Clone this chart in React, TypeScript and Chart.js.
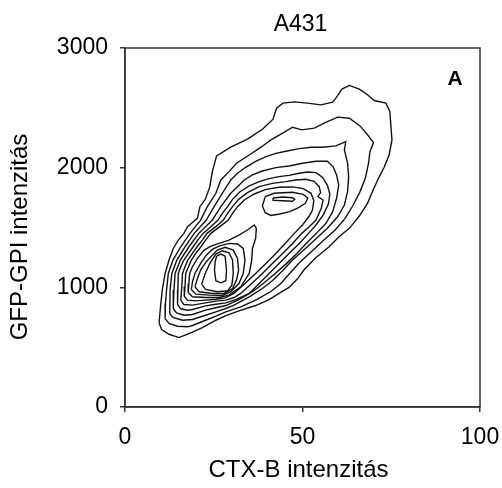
import React, { useEffect, useRef } from "react";
import { Chart, registerables } from "chart.js";

Chart.register(...registerables);

const TITLE = "A431";
const X_TITLE = "CTX-B intenzitás";
const Y_TITLE = "GFP-GPI intenzitás";
const PANEL_LABEL = "A";
const X_TICKS = [0, 50, 100];
const Y_TICKS = [0, 1000, 2000, 3000];

type Pt = [number, number];

// Contour lines, as [CTX-B, GFP-GPI] pairs (outermost first)
const contour1: Pt[] = [
  [9.6, 703], [10.3, 647], [12.4, 608], [15.2, 580], [17.1, 603], [19.0, 625], [21.8, 664], [25.6, 725],
  [28.4, 764], [32.1, 804], [36.8, 848], [40.6, 898], [43.4, 949], [46.2, 999], [48.6, 1071], [50.5, 1149],
  [53.8, 1250], [57.5, 1339], [60.3, 1423], [63.2, 1493], [66.0, 1596], [68.3, 1702], [69.9, 1814], [71.4, 1911],
  [73.0, 2003], [74.4, 2106], [75.2, 2232], [74.9, 2349], [74.6, 2469], [73.5, 2539], [70.2, 2561], [68.3, 2609],
  [66.0, 2656], [63.2, 2687], [61.1, 2656], [59.6, 2589], [58.5, 2547], [55.2, 2525], [51.4, 2539], [47.7, 2550],
  [44.5, 2539], [42.7, 2497], [41.7, 2405], [38.7, 2321], [34.5, 2238], [29.8, 2171], [25.8, 2098], [24.6, 1967],
  [23.9, 1841], [22.6, 1735], [21.1, 1674], [20.4, 1576], [17.6, 1507], [16.6, 1451], [15.0, 1395], [13.6, 1325],
  [12.4, 1228], [11.3, 1116], [10.5, 977], [10.0, 837],
];
const contour2: Pt[] = [
  [11.3, 739], [12.4, 698], [14.8, 675], [17.6, 670], [19.0, 681], [22.7, 725], [25.6, 759], [28.4, 795],
  [32.6, 837], [36.8, 893], [41.1, 965], [43.9, 1032], [46.4, 1116], [49.1, 1205], [52.4, 1295], [55.8, 1389],
  [59.2, 1479], [62.0, 1576], [64.3, 1688], [66.2, 1800], [67.7, 1911], [68.6, 2037], [69.0, 2134], [70.0, 2210],
  [68.6, 2265], [66.2, 2349], [63.2, 2413], [59.9, 2422], [56.4, 2377], [53.3, 2330], [49.8, 2316], [47.2, 2338],
  [44.4, 2288], [41.1, 2232], [38.3, 2171], [35.0, 2106], [31.4, 2037], [29.3, 1967], [27.0, 1897], [25.6, 1786],
  [23.2, 1674], [21.3, 1562], [18.3, 1451], [15.7, 1339], [13.5, 1228], [12.2, 1116], [11.7, 977], [11.4, 865],
];
const contour3: Pt[] = [
  [12.6, 781], [13.5, 748], [16.2, 725], [19.0, 731], [22.7, 767], [25.6, 795], [28.4, 823], [30.7, 851],
  [35.0, 921], [38.7, 990], [41.5, 1055], [44.4, 1138], [47.2, 1228], [50.5, 1317], [53.8, 1406], [57.0, 1493],
  [59.9, 1590], [61.8, 1688], [62.7, 1800], [63.0, 1925], [62.7, 2037], [61.8, 2148], [62.2, 2218], [59.4, 2182],
  [55.6, 2171], [52.4, 2171], [49.1, 2159], [45.3, 2137], [42.5, 2120], [39.7, 2093], [36.8, 2053], [34.0, 2003],
  [31.7, 1953], [29.8, 1897], [27.4, 1786], [25.1, 1674], [22.9, 1562], [19.5, 1451], [16.9, 1339], [14.6, 1228],
  [13.2, 1116], [12.7, 977],
];
const contour4: Pt[] = [
  [13.6, 823], [14.5, 787], [16.6, 767], [19.0, 773], [22.7, 809], [25.6, 829], [28.4, 848], [32.1, 898],
  [35.9, 963], [39.2, 1038], [42.3, 1116], [45.3, 1194], [48.4, 1283], [50.9, 1362], [53.9, 1451], [56.6, 1535],
  [58.5, 1632], [59.6, 1744], [60.2, 1855], [59.6, 1939], [58.6, 2009], [57.0, 2053], [53.8, 2053], [50.0, 2037],
  [46.2, 2014], [42.5, 2000], [38.7, 1972], [35.9, 1939], [33.6, 1897], [29.8, 1786], [27.0, 1674], [24.6, 1562],
  [20.8, 1451], [18.0, 1339], [15.6, 1228], [14.1, 1116], [13.8, 977],
];
const contour5: Pt[] = [
  [14.8, 859], [15.6, 823], [17.6, 809], [19.0, 815], [22.7, 845], [25.6, 859], [28.4, 870], [31.2, 898],
  [35.0, 949], [37.8, 1032], [40.6, 1116], [43.4, 1200], [46.2, 1283], [49.1, 1367], [51.7, 1451], [53.8, 1521],
  [55.8, 1604], [57.3, 1696], [57.7, 1780], [57.0, 1855], [55.6, 1920], [53.8, 1959], [51.4, 1964], [49.1, 1953],
  [46.2, 1936], [43.4, 1925], [40.6, 1908], [37.8, 1883], [35.0, 1847], [32.3, 1797], [30.3, 1735], [28.9, 1674],
  [27.4, 1618], [26.2, 1562], [24.2, 1507], [22.0, 1451], [20.5, 1395], [19.2, 1339], [17.9, 1283], [16.6, 1228],
  [15.7, 1172], [15.0, 1116], [14.9, 977],
];
const contour6: Pt[] = [
  [15.7, 893], [16.6, 856], [19.0, 851], [22.7, 870], [25.6, 885], [28.4, 893], [30.7, 915], [32.6, 949],
  [35.7, 1032], [38.7, 1116], [41.5, 1200], [44.4, 1283], [47.2, 1367], [49.8, 1451], [51.9, 1507], [53.8, 1562],
  [55.3, 1660], [55.8, 1730], [54.3, 1758], [55.1, 1791], [54.7, 1841], [53.3, 1886], [50.9, 1903], [48.1, 1897],
  [45.3, 1883], [41.5, 1869], [37.8, 1841], [34.5, 1791], [32.0, 1735], [30.3, 1674], [28.9, 1618], [27.7, 1562],
  [25.6, 1507], [23.1, 1451], [21.8, 1395], [20.3, 1339], [19.0, 1283], [17.7, 1228], [16.9, 1172], [16.2, 1116],
  [16.0, 1004],
];
const contour7: Pt[] = [
  [16.7, 926], [17.6, 893], [19.9, 887], [22.7, 893], [25.6, 901], [28.2, 912], [30.7, 949], [33.8, 1032],
  [36.8, 1116], [39.7, 1200], [42.5, 1283], [45.1, 1367], [47.7, 1451], [50.0, 1521], [51.9, 1596], [52.8, 1646],
  [53.2, 1724], [52.4, 1786], [50.2, 1825], [47.2, 1839], [43.4, 1836], [39.7, 1819], [36.4, 1780], [33.6, 1730],
  [31.7, 1674], [30.3, 1618], [29.1, 1562], [26.7, 1507], [24.2, 1451], [22.7, 1395], [21.4, 1339], [19.9, 1283],
  [18.7, 1228], [17.9, 1172], [17.1, 1116], [16.9, 1004],
];
const contour8Lower: Pt[] = [
  [17.8, 957], [19.0, 921], [22.7, 915], [26.5, 915], [29.3, 935], [32.6, 1004], [35.0, 1116], [35.7, 1228],
  [35.9, 1325], [36.8, 1409], [37.0, 1493], [36.4, 1521], [34.5, 1479], [32.1, 1437], [29.3, 1395], [26.5, 1367],
  [24.2, 1345], [22.3, 1311], [20.4, 1242], [19.0, 1172], [18.2, 1116], [18.0, 1032],
];
const contour8Upper: Pt[] = [
  [39.5, 1758], [42.0, 1786], [47.2, 1794], [50.2, 1777], [51.5, 1747], [50.8, 1702], [48.9, 1666], [46.4, 1632],
  [43.6, 1613], [41.1, 1601], [39.5, 1624], [38.7, 1680],
];
const contour9Lower: Pt[] = [
  [18.7, 982], [19.9, 943], [23.7, 935], [27.4, 932], [29.8, 963], [32.1, 1032], [33.3, 1116], [33.8, 1228],
  [33.3, 1325], [31.7, 1362], [29.3, 1367], [26.5, 1345], [24.6, 1317], [22.9, 1269], [21.3, 1200], [19.7, 1116],
  [19.0, 1046],
];
const contour9Upper: Pt[] = [
  [41.7, 1747], [44.4, 1755], [47.2, 1749], [47.8, 1735], [47.2, 1719], [44.4, 1724], [41.9, 1727],
];
const contour10: Pt[] = [
  [19.7, 1004], [20.9, 963], [24.6, 949], [27.9, 949], [30.3, 990], [31.4, 1060], [32.0, 1144], [31.7, 1242],
  [30.5, 1311], [28.2, 1334], [26.0, 1311], [24.6, 1269], [22.9, 1214], [21.3, 1144], [20.4, 1074],
];
const contour11: Pt[] = [
  [21.6, 1027], [22.7, 982], [26.0, 963], [28.9, 971], [30.1, 1018], [30.5, 1116], [30.3, 1228], [29.3, 1289],
  [27.4, 1306], [25.6, 1278], [23.9, 1200], [22.6, 1116],
];
const contour12: Pt[] = [
  [25.8, 1261], [27.0, 1278], [28.2, 1261], [28.6, 1144], [28.4, 1055], [27.0, 1038], [25.6, 1055], [25.2, 1144],
  [25.4, 1214],
];

const CONTOURS: Pt[][] = [
  contour1, contour2, contour3, contour4, contour5, contour6, contour7,
  contour8Lower, contour8Upper, contour9Lower, contour9Upper, contour10, contour11, contour12,
];

const FONT = '"Liberation Sans", Arial, Helvetica, sans-serif';

const decorPlugin = {
  id: "decor",
  afterDraw(chart: any) {
    const { ctx, chartArea: a } = chart;
    ctx.save();
    ctx.strokeStyle = "#333";
    ctx.lineWidth = 1.5;
    ctx.strokeRect(a.left, a.top, a.right - a.left, a.bottom - a.top);
    ctx.fillStyle = "#000";
    ctx.textAlign = "center";
    ctx.textBaseline = "alphabetic";
    const cx = (a.left + a.right) / 2;
    ctx.font = `23px ${FONT}`;
    ctx.fillText(TITLE, cx - 2, 31);
    ctx.font = `24px ${FONT}`;
    ctx.fillText(X_TITLE, cx - 4, 477);
    ctx.save();
    ctx.translate(27, 237);
    ctx.rotate(-Math.PI / 2);
    ctx.fillText(Y_TITLE, 0, 0);
    ctx.restore();
    ctx.font = `bold 21px ${FONT}`;
    ctx.fillText(PANEL_LABEL, a.right - 25, a.top + 37);
    ctx.restore();
  },
};

export default function App() {
  const ref = useRef<HTMLCanvasElement | null>(null);

  useEffect(() => {
    if (!ref.current) return;
    const datasets = CONTOURS.map((c) => ({
      data: [...c, c[0]].map(([x, y]) => ({ x, y })),
      showLine: true,
      borderColor: "#111",
      borderWidth: 1.4,
      pointRadius: 0,
      fill: false,
      tension: 0,
    }));
    const tickFont = { family: FONT, size: 23 };
    const chart = new Chart(ref.current, {
      type: "scatter",
      data: { datasets },
      plugins: [decorPlugin],
      options: {
        animation: false,
        responsive: false,
        devicePixelRatio: 1,
        layout: { padding: { top: 48, right: 22, bottom: 0, left: 0 } },
        plugins: { legend: { display: false }, tooltip: { enabled: false }, title: { display: false } },
        scales: {
          x: {
            type: "linear",
            min: 0,
            max: 100,
            afterBuildTicks: (s: any) => {
              s.ticks = X_TICKS.map((v) => ({ value: v }));
            },
            afterFit: (s: any) => {
              s.height = 81;
              s.paddingLeft = 0;
              s.paddingRight = 0;
            },
            border: { display: true, color: "#333", width: 1.5 },
            grid: { drawOnChartArea: false, drawTicks: true, tickLength: 5, color: "#333", lineWidth: 1.5 },
            ticks: {
              font: tickFont,
              color: "#000",
              padding: 12,
              maxRotation: 0,
              autoSkip: false,
              callback: (v: any) => String(v),
            },
          },
          y: {
            type: "linear",
            min: 0,
            max: 3000,
            afterBuildTicks: (s: any) => {
              s.ticks = Y_TICKS.map((v) => ({ value: v }));
            },
            afterFit: (s: any) => {
              s.width = 125;
              s.paddingTop = 0;
              s.paddingBottom = 0;
            },
            border: { display: true, color: "#333", width: 1.5 },
            grid: { drawOnChartArea: false, drawTicks: true, tickLength: 5, color: "#333", lineWidth: 1.5 },
            ticks: {
              font: tickFont,
              color: "#000",
              padding: 12,
              autoSkip: false,
              callback: (v: any) => String(v),
            },
          },
        },
      },
    } as any);
    return () => chart.destroy();
  }, []);

  return (
    <div style={{ position: "fixed", left: 0, top: 0, width: 502, height: 488, background: "#fff" }}>
      <canvas ref={ref} width={502} height={488} style={{ display: "block", width: 502, height: 488 }} />
    </div>
  );
}
